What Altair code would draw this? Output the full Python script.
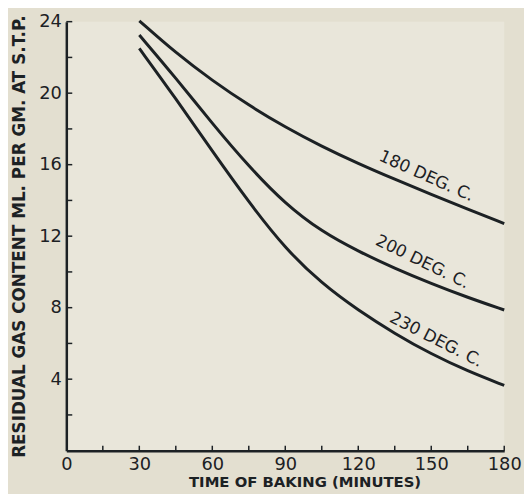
import altair as alt
import pandas as pd

# ---- data ----
times = [30, 45, 60, 75, 90, 105, 120, 135, 150, 165, 180]
gas_180 = [24.05, 22.25, 20.70, 19.32, 18.10, 17.02, 16.06, 15.18, 14.34, 13.52, 12.70]
gas_200 = [23.25, 20.85, 18.30, 15.90, 13.80, 12.25, 11.15, 10.20, 9.35, 8.57, 7.87]
gas_230 = [22.5, 19.7, 16.75, 13.9, 11.3, 9.35, 7.85, 6.55, 5.4, 4.45, 3.65]
series_names = ["180 DEG. C.", "200 DEG. C.", "230 DEG. C."]

label_texts = ["180 DEG. C.", "200 DEG. C.", "230 DEG. C."]
label_t = [148.0, 146.4, 152.0]
label_v = [15.35, 10.55, 6.2]
label_angle = [24, 26, 27]

x_ticks = [15, 30, 45, 60, 75, 90, 105, 120, 135, 150, 165, 180]
y_ticks = [2, 4, 6, 8, 10, 12, 14, 16, 18, 20, 22, 24]
x_labels = [0, 30, 60, 90, 120, 150, 180]
y_labels = [4, 8, 12, 16, 20, 24]

# ---- tables ----
rows = []
for name, vals in zip(series_names, [gas_180, gas_200, gas_230]):
    for t, v in zip(times, vals):
        rows.append({"series": name, "t": t, "v": v})
df = pd.DataFrame(rows)
lab = pd.DataFrame({"text": label_texts, "t": label_t, "v": label_v, "angle": label_angle})
xt = pd.DataFrame({"t": x_ticks})
yt = pd.DataFrame({"v": y_ticks})

W, H = 443, 434
INK = "#1c2124"
FONT = "DejaVu Sans"

xscale = alt.Scale(domain=[0, 180], nice=False, zero=True)
yscale = alt.Scale(domain=[0, 24], nice=False, zero=True)

x_axis = alt.Axis(values=x_labels, ticks=False, grid=False, domain=True,
                  domainColor=INK, domainWidth=2.5, labelFont=FONT, labelFontSize=18,
                  labelColor=INK, labelPadding=5, labelFlush=False,
                  title="TIME OF BAKING (MINUTES)", titleFont=FONT, titleFontSize=15,
                  titleFontWeight="bold", titleColor=INK, titlePadding=1, titleX=241)
y_axis = alt.Axis(values=y_labels, ticks=False, grid=False, domain=True,
                  domainColor=INK, domainWidth=2.5, labelFont=FONT, labelFontSize=18,
                  labelColor=INK, labelPadding=5, labelFlush=False,
                  title="RESIDUAL GAS CONTENT ML. PER GM. AT S.T.P.", titleFont=FONT,
                  titleFontSize=17, titleFontWeight="bold", titleColor=INK, titlePadding=10)

lines = alt.Chart(df).mark_line(strokeWidth=3, color=INK, interpolate="basis").encode(
    x=alt.X("t:Q", scale=xscale, axis=x_axis),
    y=alt.Y("v:Q", scale=yscale, axis=y_axis),
    detail="series:N",
)

labels = alt.Chart(lab).mark_text(font=FONT, fontSize=17, color=INK, align="center",
                                  baseline="middle").encode(
    x=alt.X("t:Q", scale=xscale),
    y=alt.Y("v:Q", scale=yscale),
    text="text:N",
    angle=alt.Angle("angle:Q", scale=None),
)

xtick = alt.Chart(xt).mark_rule(color=INK, strokeWidth=1.5).encode(
    x=alt.X("t:Q", scale=xscale),
    y=alt.value(H),
    y2=alt.value(H - 5),
)
ytick = alt.Chart(yt).mark_rule(color=INK, strokeWidth=1.5).encode(
    y=alt.Y("v:Q", scale=yscale),
    x=alt.value(0),
    x2=alt.value(6),
)

chart = alt.layer(lines, labels, xtick, ytick).properties(
    width=W, height=H,
    autosize=alt.AutoSizeParams(type="none"),
    padding={"left": 59, "top": 11, "right": 20, "bottom": 41},
    background="#e3dfd0",
).configure_view(fill="#e9e6da", stroke=None)

chart.save("out.html", embed_options={"renderer": "svg", "actions": False})
